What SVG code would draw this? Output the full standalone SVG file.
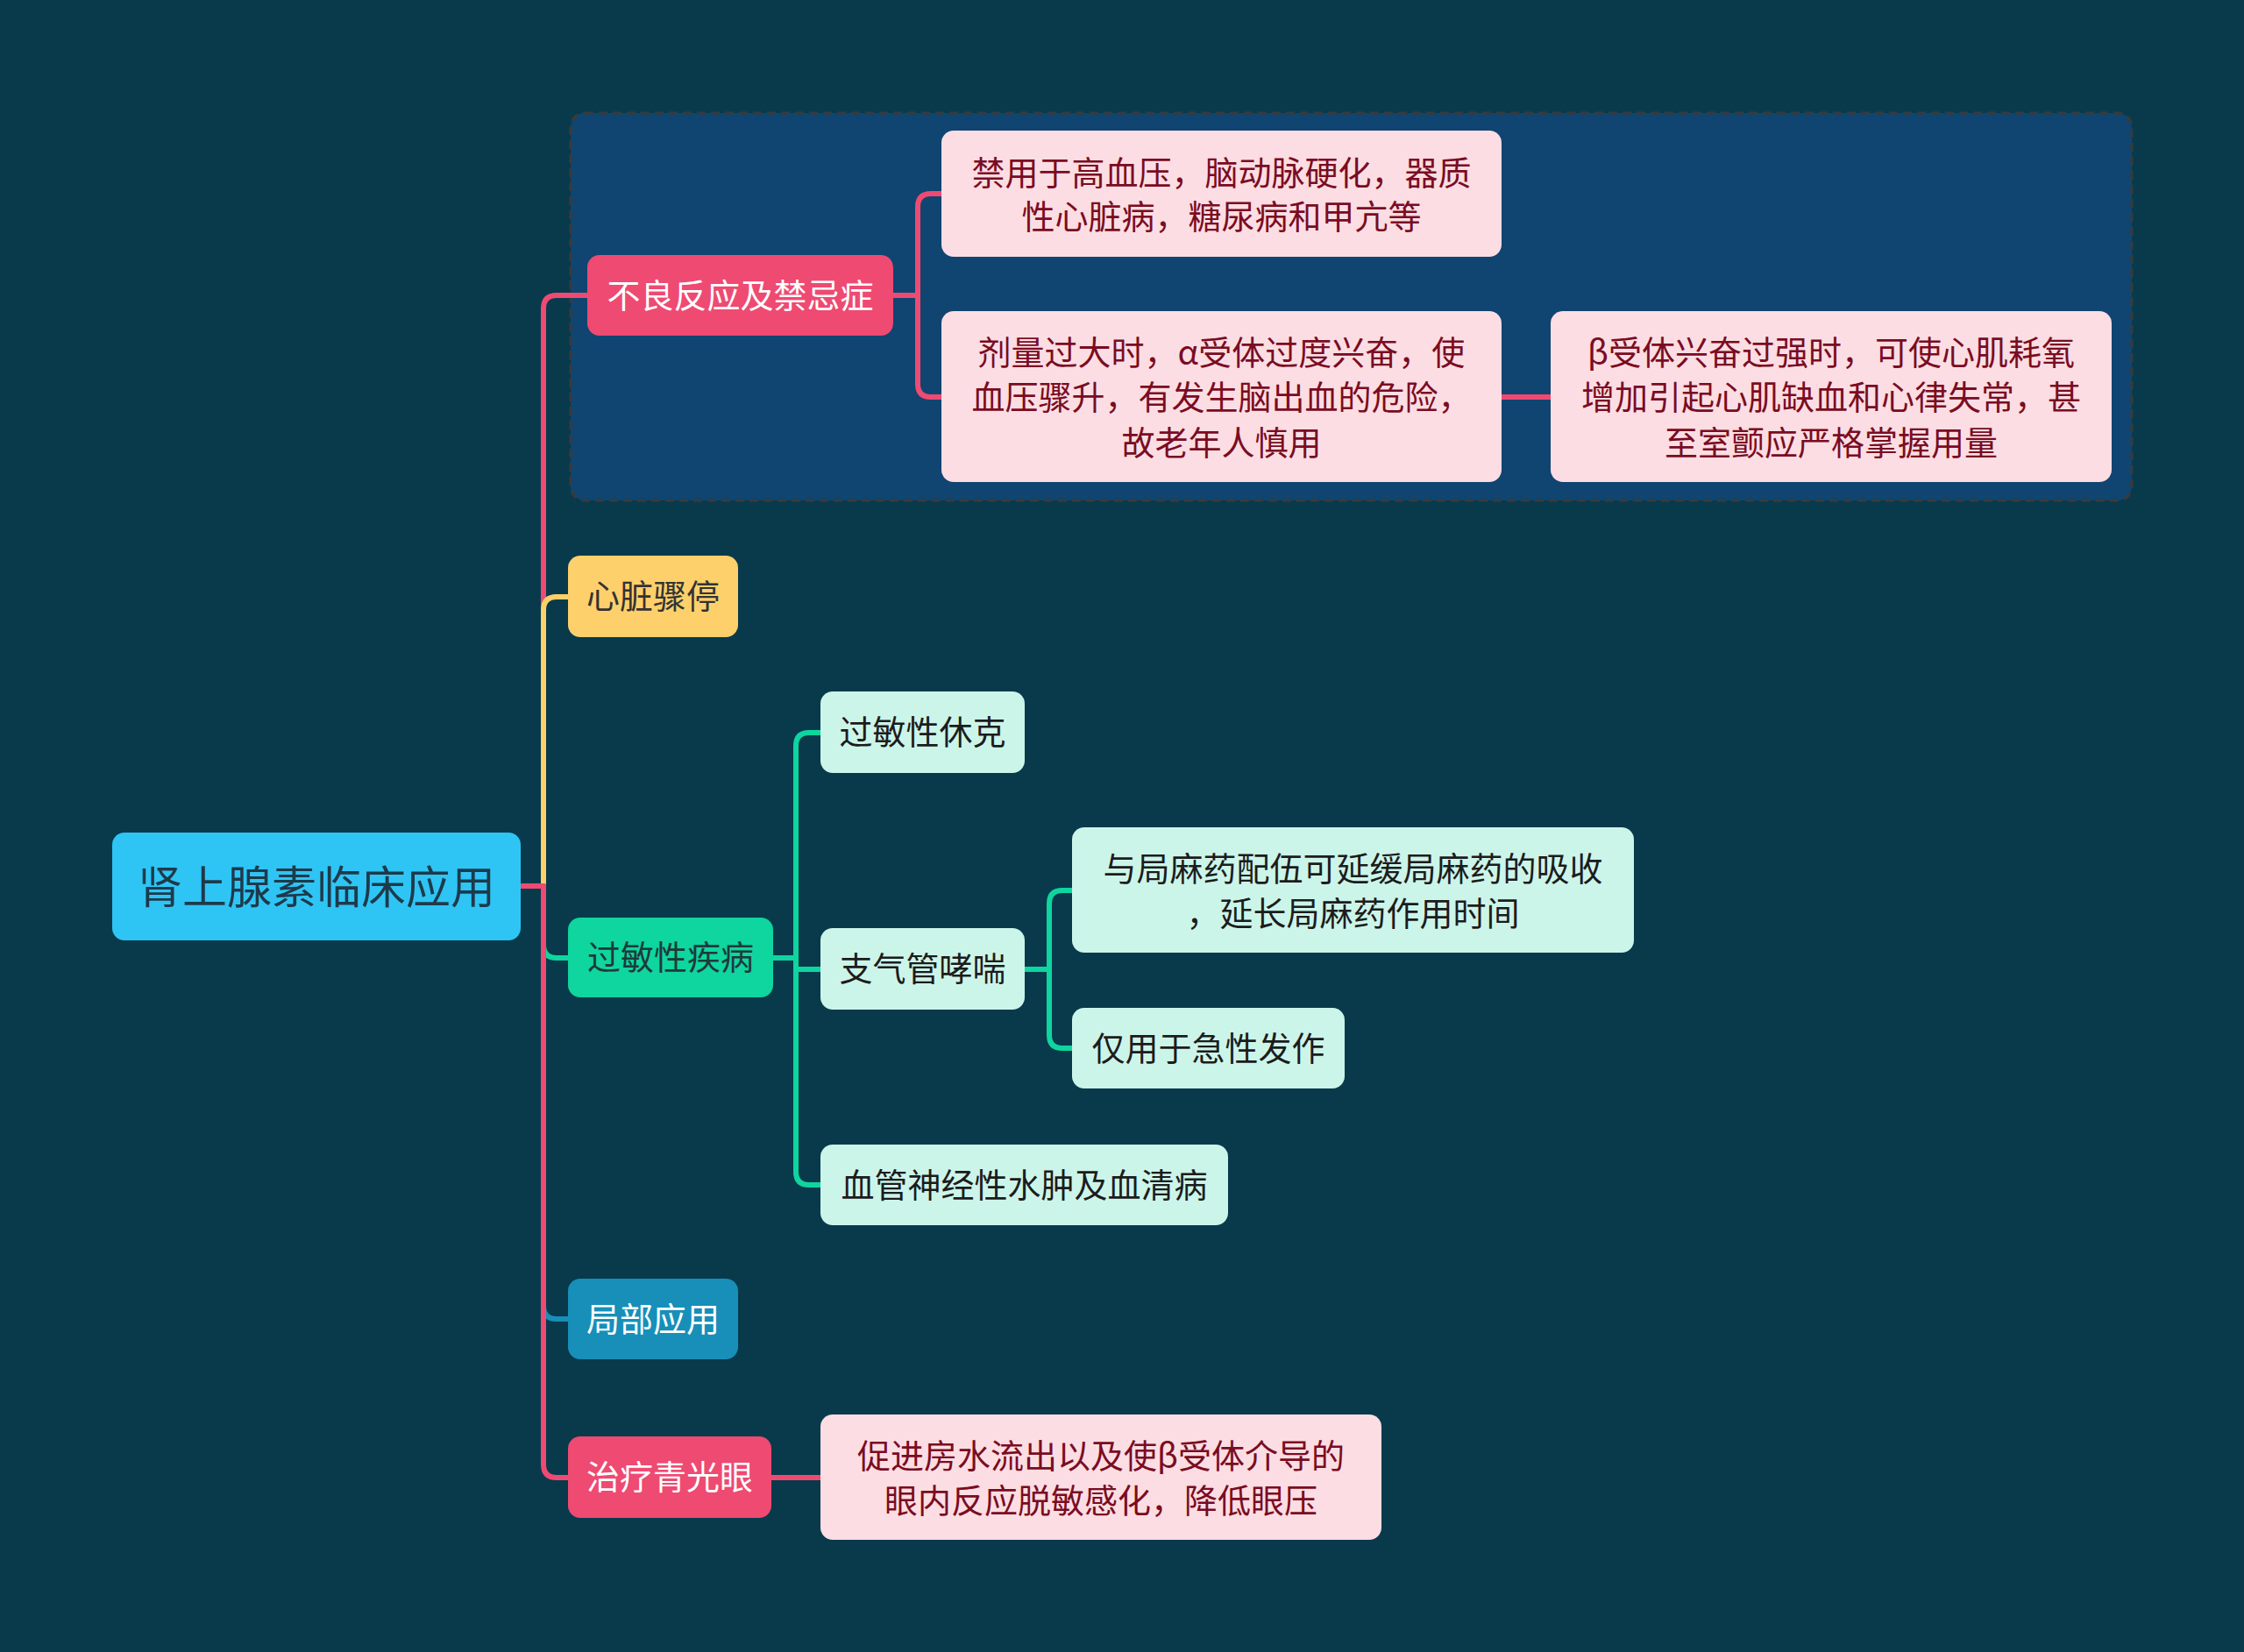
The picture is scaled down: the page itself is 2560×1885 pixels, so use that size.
<svg xmlns="http://www.w3.org/2000/svg" width="2560" height="1885" viewBox="0 0 2560 1885">
<style>
text{font-family:"Noto Sans CJK SC","Liberation Sans",sans-serif;text-anchor:middle;dominant-baseline:central}
.t38{font-size:38px}
.conn{fill:none;stroke-width:6;stroke-linejoin:round}
.red{stroke:#ee4a72}.yel{stroke:#fdd06b}.grn{stroke:#0fd59e}.blu{stroke:#178fb9}
.pinkbox{fill:#fcdde3}.pinktx{fill:#7a0c22}
.lgbox{fill:#ccf5ea}.dktx{fill:#1c1c1c}
</style>
<rect width="2560" height="1885" fill="#083a4c"/>
<rect id="boundary" x="651" y="129" width="1781" height="442" rx="16" fill="#0f4570" stroke="#3a3a3a" stroke-width="3" stroke-dasharray="10 6"/>
<g id="connectors">
<path class="conn red" d="M594,1011 H620 V352 Q620,337 635,337 H670"/>
<path class="conn yel" d="M594,1011 H620 V696 Q620,681 635,681 H648"/>
<path class="conn grn" d="M594,1011 H620 V1078 Q620,1093 635,1093 H648"/>
<path class="conn blu" d="M594,1011 H620 V1490 Q620,1505 635,1505 H648"/>
<path class="conn red" d="M594,1011 H620 V1671 Q620,1686 635,1686 H648"/>
<path class="conn red" d="M1019,337 H1047 V236 Q1047,221 1062,221 H1074"/>
<path class="conn red" d="M1019,337 H1047 V438 Q1047,453 1062,453 H1074"/>
<path class="conn red" d="M1713,453 H1769"/>
<path class="conn red" d="M880,1686 H936"/>
<path class="conn grn" d="M882,1093 H908 V851 Q908,836 923,836 H936"/>
<path class="conn grn" d="M882,1093 H908 V1106 H936"/>
<path class="conn grn" d="M882,1093 H908 V1337 Q908,1352 923,1352 H936"/>
<path class="conn grn" d="M1169,1106 H1197 V1031 Q1197,1016 1212,1016 H1223"/>
<path class="conn grn" d="M1169,1106 H1197 V1181 Q1197,1196 1212,1196 H1223"/>
</g>
<g id="root">
<rect x="128" y="950" width="466" height="123" rx="14" fill="#2ec5f5"/>
<text x="361" y="1009" font-size="51" fill="#1e3a4a">肾上腺素临床应用</text>
</g>
<g id="n-adverse">
<rect x="670" y="291" width="349" height="92" rx="14" fill="#ee4a72"/>
<text class="t38" x="844.5" y="334" fill="#ffffff">不良反应及禁忌症</text>
</g>
<g id="n-contra">
<rect class="pinkbox" x="1074" y="149" width="639" height="144" rx="14"/>
<text class="t38 pinktx" x="1393.5" y="194">禁用于高血压，脑动脉硬化，器质</text>
<text class="t38 pinktx" x="1393.5" y="244">性心脏病，糖尿病和甲亢等</text>
</g>
<g id="n-overdose">
<rect class="pinkbox" x="1074" y="355" width="639" height="195" rx="14"/>
<text class="t38 pinktx" x="1393.5" y="399">剂量过大时，α受体过度兴奋，使</text>
<text class="t38 pinktx" x="1393.5" y="450">血压骤升，有发生脑出血的危险，</text>
<text class="t38 pinktx" x="1393.5" y="502">故老年人慎用</text>
</g>
<g id="n-beta">
<rect class="pinkbox" x="1769" y="355" width="640" height="195" rx="14"/>
<text class="t38 pinktx" x="2089" y="399">β受体兴奋过强时，可使心肌耗氧</text>
<text class="t38 pinktx" x="2089" y="450">增加引起心肌缺血和心律失常，甚</text>
<text class="t38 pinktx" x="2089" y="502">至室颤应严格掌握用量</text>
</g>
<g id="n-cardiac">
<rect x="648" y="634" width="194" height="93" rx="14" fill="#fdd06b"/>
<text class="t38" x="745" y="677.5" fill="#333333">心脏骤停</text>
</g>
<g id="n-allergy">
<rect x="648" y="1047" width="234" height="91" rx="14" fill="#0fd59e"/>
<text class="t38" x="765" y="1089.5" fill="#1e3a3a">过敏性疾病</text>
</g>
<g id="n-shock">
<rect class="lgbox" x="936" y="789" width="233" height="93" rx="14"/>
<text class="t38 dktx" x="1052.5" y="832.5">过敏性休克</text>
</g>
<g id="n-asthma">
<rect class="lgbox" x="936" y="1059" width="233" height="93" rx="14"/>
<text class="t38 dktx" x="1052.5" y="1102.5">支气管哮喘</text>
</g>
<g id="n-localanes">
<rect class="lgbox" x="1223" y="944" width="641" height="143" rx="14"/>
<text class="t38 dktx" x="1543.5" y="988">与局麻药配伍可延缓局麻药的吸收</text>
<text class="t38 dktx" x="1543.5" y="1039">，延长局麻药作用时间</text>
</g>
<g id="n-acute">
<rect class="lgbox" x="1223" y="1150" width="311" height="92" rx="14"/>
<text class="t38 dktx" x="1378.5" y="1193">仅用于急性发作</text>
</g>
<g id="n-angio">
<rect class="lgbox" x="936" y="1306" width="465" height="92" rx="14"/>
<text class="t38 dktx" x="1168.5" y="1349">血管神经性水肿及血清病</text>
</g>
<g id="n-local">
<rect x="648" y="1459" width="194" height="92" rx="14" fill="#178fb9"/>
<text class="t38" x="745" y="1502" fill="#ffffff">局部应用</text>
</g>
<g id="n-glaucoma">
<rect x="648" y="1639" width="232" height="93" rx="14" fill="#ee4a72"/>
<text class="t38" x="764" y="1682.5" fill="#ffffff">治疗青光眼</text>
</g>
<g id="n-aqueous">
<rect class="pinkbox" x="936" y="1614" width="640" height="143" rx="14"/>
<text class="t38 pinktx" x="1256" y="1658">促进房水流出以及使β受体介导的</text>
<text class="t38 pinktx" x="1256" y="1709">眼内反应脱敏感化，降低眼压</text>
</g>
</svg>
